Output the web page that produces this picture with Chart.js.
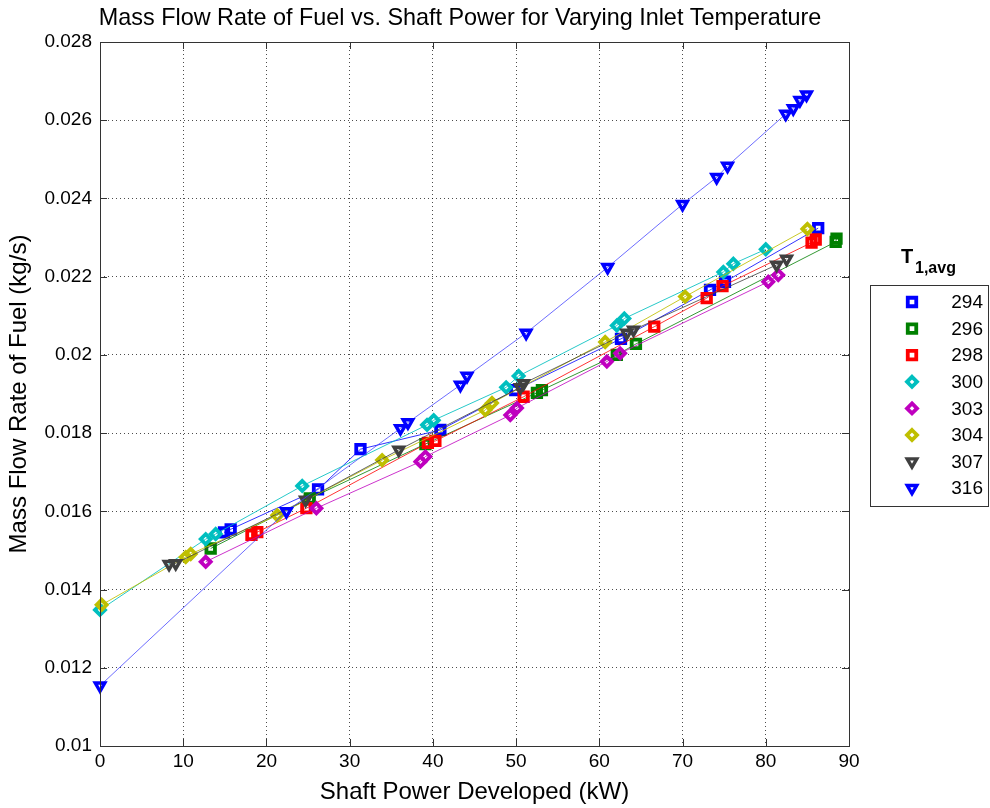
<!DOCTYPE html>
<html>
<head>
<meta charset="utf-8">
<script src="https://cdn.jsdelivr.net/npm/chart.js@4/dist/chart.umd.min.js"></script>
<style>
  html, body { margin: 0; padding: 0; background: #fff; }
  #wrap { width: 990px; height: 808px; }
</style>
</head>
<body>
<div id="wrap"><canvas id="c" width="990" height="808"></canvas></div>
<script>
// ---- data ----
const seriesLabels = ['294', '296', '298', '300', '303', '304', '307', '316'];

const x294 = [14.9, 15.7, 26.2, 31.3, 40.9, 49.9, 62.6, 73.3, 75.1, 86.3];
const y294 = [0.01546, 0.01554, 0.01656, 0.01759, 0.01808, 0.01910, 0.02041, 0.02166, 0.02187, 0.02324];

const x296 = [13.3, 25.2, 39.1, 52.5, 53.1, 62.1, 64.4, 88.4, 88.5];
const y296 = [0.01505, 0.01633, 0.01772, 0.01903, 0.01910, 0.02000, 0.02028, 0.02289, 0.02297];

const x298 = [18.2, 18.9, 24.8, 39.4, 40.3, 50.9, 66.6, 72.9, 74.8, 85.5, 86.0];
const y298 = [0.01540, 0.01547, 0.01608, 0.01775, 0.01780, 0.01893, 0.02072, 0.02145, 0.02176, 0.02287, 0.02295];

const x300 = [0.0, 12.7, 13.9, 24.3, 39.3, 40.1, 48.8, 50.3, 62.1, 63.0, 74.9, 76.1, 80.0];
const y300 = [0.01348, 0.01529, 0.01542, 0.01665, 0.01821, 0.01833, 0.01917, 0.01946, 0.02075, 0.02093, 0.02212, 0.02233, 0.02270];

const x303 = [12.7, 26.0, 38.5, 39.1, 49.3, 50.1, 60.9, 62.5, 80.3, 81.5];
const y303 = [0.01471, 0.01608, 0.01727, 0.01740, 0.01846, 0.01864, 0.01983, 0.02004, 0.02187, 0.02204];

const x304 = [0.2, 10.3, 10.9, 21.3, 33.9, 46.3, 47.1, 60.7, 70.3, 85.0];
const y304 = [0.01361, 0.01483, 0.01491, 0.01590, 0.01731, 0.01859, 0.01877, 0.02033, 0.02149, 0.02322];

const x307 = [8.3, 9.1, 24.7, 35.9, 50.5, 50.9, 63.3, 64.1, 81.3, 82.5];
const y307 = [0.01465, 0.01467, 0.01629, 0.01757, 0.01917, 0.01927, 0.02056, 0.02064, 0.02230, 0.02245];

const x316 = [0.0, 22.4, 36.1, 37.0, 43.3, 44.1, 51.2, 61.0, 70.0, 74.1, 75.4, 82.4, 83.3, 84.1, 84.9];
const y316 = [0.01154, 0.01600, 0.01812, 0.01827, 0.01923, 0.01946, 0.02056, 0.02224, 0.02385, 0.02454, 0.02483, 0.02616, 0.02630, 0.02651, 0.02665];

const xTicks = [0, 10, 20, 30, 40, 50, 60, 70, 80, 90];
const yTicks = [0.01, 0.012, 0.014, 0.016, 0.018, 0.02, 0.022, 0.024, 0.026, 0.028];

// ---- styles ----
const xsAll = [x294, x296, x298, x300, x303, x304, x307, x316];
const ysAll = [y294, y296, y298, y300, y303, y304, y307, y316];
const markerColors = ['#0000ff', '#008000', '#ff0000', '#00bfbf', '#bf00bf', '#bfbf00', '#404040', '#0000ff'];
const lineColors = ['rgba(0,0,255,0.8)', 'rgba(0,128,0,0.8)', 'rgba(255,0,0,0.8)', 'rgba(0,191,191,0.85)',
                    'rgba(191,0,191,0.8)', 'rgba(191,191,0,0.85)', 'rgba(64,64,64,0.8)', 'rgba(60,60,255,0.75)'];
const styles = ['rect', 'rect', 'rect', 'rectRot', 'rectRot', 'rectRot', 'triangle', 'triangle'];
const radii = [6, 6, 6, 5, 5, 5, 5.5, 5.5];
const strokeW = [3.8, 3.8, 3.8, 3.8, 3.8, 3.8, 3.4, 3.4];

const FONT = '"Liberation Sans", Arial, Helvetica, sans-serif';

const datasets = seriesLabels.map((lab, i) => ({
  label: lab,
  data: xsAll[i].map((x, k) => ({ x: x, y: ysAll[i][k] })),
  showLine: true,
  borderColor: lineColors[i],
  borderWidth: 1,
  pointStyle: styles[i],
  pointRotation: styles[i] === 'triangle' ? 180 : 0,
  pointRadius: radii[i],
  pointBorderWidth: strokeW[i],
  pointBorderColor: markerColors[i],
  pointBackgroundColor: 'rgba(255,255,255,0)',
  clip: false,
  order: 8 - i
}));

function drawMarker(ctx, style, x, y, r, color, lw) {
  ctx.save();
  ctx.strokeStyle = color;
  ctx.lineWidth = lw;
  ctx.beginPath();
  if (style === 'rect') {
    const s = Math.SQRT1_2 * r;
    ctx.rect(x - s, y - s, 2 * s, 2 * s);
  } else if (style === 'rectRot') {
    ctx.moveTo(x, y - r); ctx.lineTo(x + r, y); ctx.lineTo(x, y + r); ctx.lineTo(x - r, y); ctx.closePath();
  } else {
    let rad = Math.PI;
    for (let k = 0; k < 3; k++) {
      const px = x + Math.sin(rad) * r, py = y - Math.cos(rad) * r;
      if (k === 0) ctx.moveTo(px, py); else ctx.lineTo(px, py);
      rad += 2 * Math.PI / 3;
    }
    ctx.closePath();
  }
  ctx.stroke();
  ctx.restore();
}

const framePlugin = {
  id: 'frame',
  afterDatasetsDraw(chart) {
    const ctx = chart.ctx;
    const a = chart.chartArea;
    const xs = chart.scales.x, ys = chart.scales.y;
    ctx.save();
    ctx.strokeStyle = '#333';
    ctx.lineWidth = 1;
    ctx.strokeRect(Math.round(a.left) + 0.5, Math.round(a.top) + 0.5,
                   Math.round(a.right) - Math.round(a.left), Math.round(a.bottom) - Math.round(a.top));
    const L = 7;
    ctx.beginPath();
    xTicks.forEach(v => {
      const px = Math.round(xs.getPixelForValue(v)) + 0.5;
      ctx.moveTo(px, a.bottom); ctx.lineTo(px, a.bottom - L);
      ctx.moveTo(px, a.top); ctx.lineTo(px, a.top + L);
    });
    yTicks.forEach(v => {
      const py = Math.round(ys.getPixelForValue(v)) + 0.5;
      ctx.moveTo(a.left, py); ctx.lineTo(a.left + L, py);
      ctx.moveTo(a.right, py); ctx.lineTo(a.right - L, py);
    });
    ctx.stroke();
    ctx.restore();
  },
  afterDraw(chart) {
    const ctx = chart.ctx;
    ctx.save();
    // chart title
    ctx.fillStyle = '#000';
    ctx.textAlign = 'center';
    ctx.textBaseline = 'middle';
    ctx.font = '23.4px ' + FONT;
    ctx.fillText('Mass Flow Rate of Fuel vs. Shaft Power for Varying Inlet Temperature', 460, 19);
    // legend title T_{1,avg}
    ctx.textBaseline = 'alphabetic';
    ctx.textAlign = 'left';
    ctx.font = 'bold 20px ' + FONT;
    ctx.fillText('T', 901, 263);
    ctx.font = 'bold 16px ' + FONT;
    ctx.fillText('1,avg', 915, 273);
    // legend box
    const bx = 870.5, by = 285.5, bw = 118, bh = 221;
    ctx.fillStyle = '#fff';
    ctx.fillRect(bx, by, bw, bh);
    ctx.strokeStyle = '#333';
    ctx.lineWidth = 1;
    ctx.strokeRect(bx, by, bw, bh);
    ctx.font = '19px ' + FONT;
    ctx.textAlign = 'right';
    ctx.textBaseline = 'middle';
    seriesLabels.forEach((lab, i) => {
      const yy = 302 + i * 26.6;
      drawMarker(ctx, styles[i], 912, yy, radii[i], markerColors[i], strokeW[i]);
      ctx.fillStyle = '#000';
      ctx.fillText(lab, 983, yy + 1);
    });
    ctx.restore();
  }
};

new Chart(document.getElementById('c'), {
  type: 'scatter',
  data: { datasets: datasets },
  options: {
    responsive: false,
    animation: false,
    devicePixelRatio: 1,
    layout: { padding: { left: 0, right: 141, top: 42, bottom: 0 } },
    plugins: {
      legend: { display: false },
      tooltip: { enabled: false },
      title: { display: false }
    },
    scales: {
      x: {
        type: 'linear',
        min: 0, max: 90,
        afterBuildTicks: s => { s.ticks = xTicks.map(v => ({ value: v })); },
        ticks: { color: '#000', font: { family: FONT, size: 19 }, padding: 4, maxRotation: 0,
                 callback: v => String(v) },
        grid: { color: 'rgba(0,0,0,0.7)', lineWidth: 1, drawTicks: false },
        border: { display: false, dash: [1, 3] },
        title: { display: true, text: 'Shaft Power Developed (kW)', color: '#000',
                 font: { family: FONT, size: 24 }, padding: { top: 0, bottom: 1 } },
        afterFit: s => { s.height = 62; }
      },
      y: {
        type: 'linear',
        min: 0.01, max: 0.028,
        afterBuildTicks: s => { s.ticks = yTicks.map(v => ({ value: v })); },
        ticks: { color: '#000', font: { family: FONT, size: 19 }, padding: 8,
                 callback: v => String(parseFloat(Number(v).toFixed(4))) },
        grid: { color: 'rgba(0,0,0,0.7)', lineWidth: 1, drawTicks: false },
        border: { display: false, dash: [1, 3] },
        title: { display: true, text: 'Mass Flow Rate of Fuel (kg/s)', color: '#000',
                 font: { family: FONT, size: 24 }, padding: { top: 5, bottom: 0 } },
        afterFit: s => { s.width = 100; }
      }
    }
  },
  plugins: [framePlugin]
});
</script>
</body>
</html>
